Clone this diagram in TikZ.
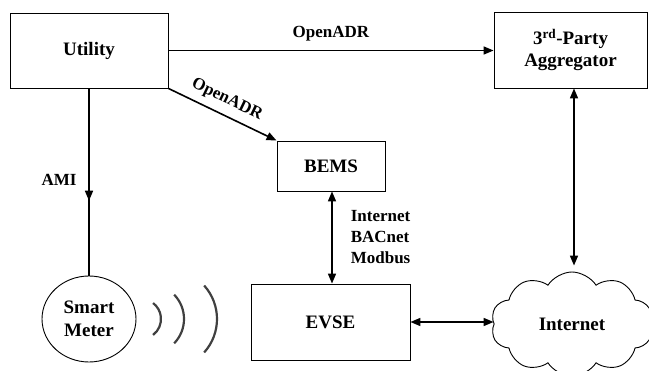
\documentclass[tikz,border=0pt]{standalone}
\usepackage{fontspec}
\setmainfont{LiberationSerif}[Extension=.ttf, UprightFont=*-Regular, BoldFont=*-Bold]
\usetikzlibrary{arrows.meta,shapes.geometric,shapes.symbols,decorations.markings,calc}

\tikzset{
  box/.style={draw, line width=0.9pt, rectangle, inner sep=0pt, align=center,
    font=\fontsize{19}{22.5}\selectfont\bfseries},
  link/.style={line width=1.6pt, -{Triangle[length=10pt,width=8pt]}},
  biglink/.style={line width=1.6pt, {Triangle[length=10pt,width=8pt]}-{Triangle[length=10pt,width=8pt]}},
  lbl/.style={font=\fontsize{17}{21}\selectfont\bfseries, inner sep=0pt, align=left},
  wave/.style={draw=black!75, line width=2.2pt},
}

\begin{document}
\begin{tikzpicture}[x=1pt, y=-1pt]
\useasboundingbox (0,0) rectangle (649,371);

% main blocks
\node[box, minimum width=158pt, minimum height=75pt] (utility) at (89,50.5) {Utility};
\node[box, minimum width=153pt, minimum height=76pt] (agg) at (570.5,50) {3\textsuperscript{rd}-Party\\Aggregator};
\node[box, minimum width=108pt, minimum height=50pt] (bems) at (331,166) {BEMS};
\node[box, minimum width=159pt, minimum height=76pt] (evse) at (330.5,322) {EVSE};
\node[draw, line width=0.9pt, ellipse, minimum width=94pt, minimum height=86pt, inner sep=0pt,
      align=center, font=\fontsize{19}{23}\selectfont\bfseries] (meter) at (89,319) {Smart\\Meter};
\node[draw, line width=0.9pt, cloud, cloud puffs=10, cloud puff arc=115, aspect=1.55,
      minimum width=162pt, minimum height=104pt, inner sep=0pt,
      font=\fontsize{19}{22}\selectfont\bfseries] (cloud) at (572,324) {Internet};

% connectors
\draw[link] (utility.east) -- node[lbl, above=9pt] {OpenADR} (utility.east -| agg.west);
\draw[link] (utility.south east) -- node[lbl, sloped, above=7pt, pos=0.48] {OpenADR} (bems.north west);
\draw[line width=1.6pt, postaction={decorate}, decoration={markings,
      mark=at position 0.6 with {\arrow{Triangle[length=10pt,width=8pt]}}}]
  (utility.south) -- (meter.north);
\node[lbl, anchor=base] (ami) at (59,186) {AMI};
\draw[biglink] ([xshift=1pt]bems.south) -- ([xshift=1pt]bems.south |- evse.north)
  node[lbl, pos=0.5, right=18pt, anchor=west] {Internet\\BACnet\\Modbus};
\draw[biglink] (evse.east) -- (evse.east -| cloud.west);
\coordinate (cloudtop) at ([yshift=6pt]cloud.north);
\draw[biglink] ([xshift=3.5pt]agg.south) -- ([xshift=3.5pt]agg.south |- cloudtop);

% radio waves from the meter
\draw[wave] ($(141,319)+(-53:20pt)$) arc[start angle=-53, end angle=53, radius=20pt];
\draw[wave] ($(149,319)+(-44:35pt)$) arc[start angle=-44, end angle=44, radius=35pt];
\draw[wave] ($(167,319)+(-42:50pt)$) arc[start angle=-42, end angle=42, radius=50pt];
\end{tikzpicture}
\end{document}
